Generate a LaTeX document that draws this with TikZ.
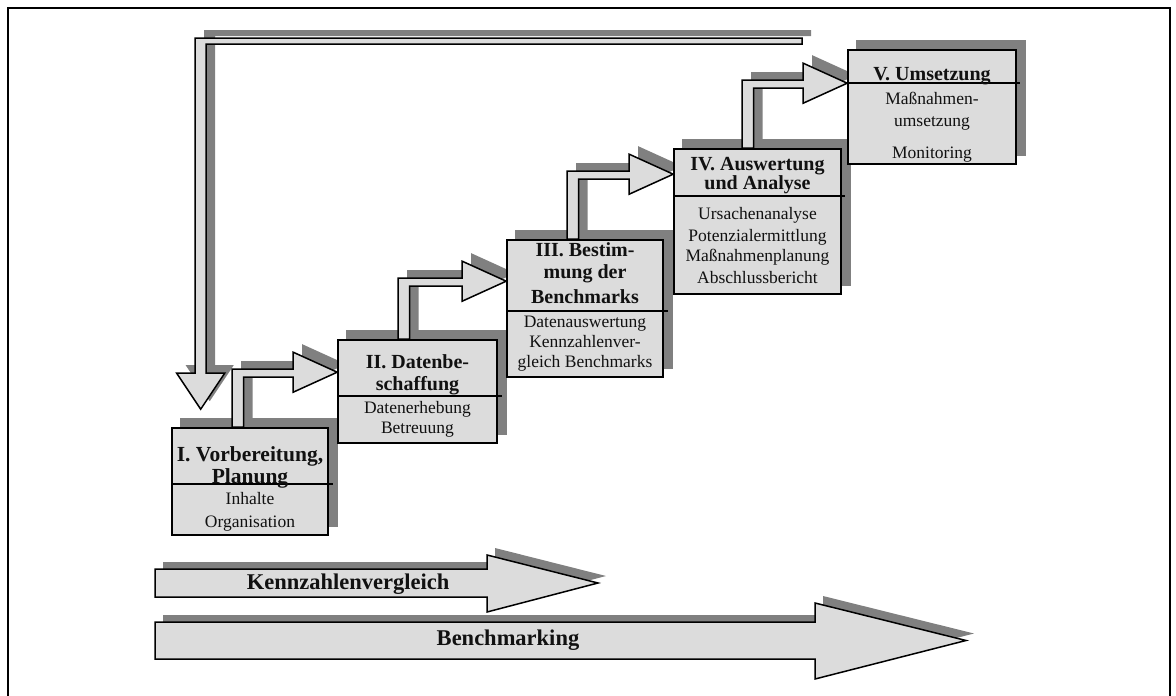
\documentclass[tikz,border=0pt]{standalone}
\usepackage{fontspec}
\setmainfont{Liberation Serif}
\usetikzlibrary{calc}
\definecolor{fillc}{HTML}{DCDCDC}
\definecolor{shadc}{HTML}{808080}
\definecolor{inkc}{HTML}{111111}
\pgfdeclarelayer{shadlayer}
\pgfdeclarelayer{arrlayer}
\pgfsetlayers{shadlayer,arrlayer,main}

% stair connector: #1 start (shaft outer-left at lower box top), #2 tip, #3 dx, #4 dy, #5 style
\newcommand{\stairfill}[5]{%
  \path[#5] let \p1=(#1), \p2=(#2) in
    (\x1+#3,\y1+#4) -- (\x1+#3,\y2+3pt+#4) -- (\x2-44pt+#3,\y2+3pt+#4)
    -- (\x2-44pt+#3,\y2+20pt+#4) -- (\x2+#3,\y2+#4) -- (\x2-44pt+#3,\y2-20pt+#4)
    -- (\x2-44pt+#3,\y2-5pt+#4) -- (\x1+11.5pt+#3,\y2-5pt+#4) -- (\x1+11.5pt+#3,\y1+#4) -- cycle;}

% feedback connector: #1 start (bar right end, top), #2 tip
\newcommand{\feedfill}[5]{%
  \path[#5] let \p1=(#1), \p2=(#2) in
    (\x1+#3,\y1+#4) -- (\x2-5.5pt+#3,\y1+#4) -- (\x2-5.5pt+#3,\y2+36pt+#4)
    -- (\x2-24pt+#3,\y2+36pt+#4) -- (\x2+#3,\y2+#4) -- (\x2+24pt+#3,\y2+36pt+#4)
    -- (\x2+5.5pt+#3,\y2+36pt+#4) -- (\x2+5.5pt+#3,\y1-6pt+#4) -- (\x1+#3,\y1-6pt+#4) -- cycle;}

\begin{document}
\begin{tikzpicture}[x=1pt,y=-1pt,
  stepbox/.style={draw=black, line width=1.6pt, fill=fillc, inner sep=0pt},
  divline/.style={draw=black, line width=1.6pt},
  arrline/.style={draw=black, line width=1.5pt, fill=fillc, line join=miter},
  shadfill/.style={fill=shadc},
  hdr/.style={font=\fontsize{20}{22}\selectfont\bfseries, text=inkc, anchor=base, inner sep=0pt},
  hdrbig/.style={hdr, font=\fontsize{21.5}{23}\selectfont\bfseries},
  bod/.style={font=\fontsize{17.5}{20}\selectfont, text=inkc, anchor=base, inner sep=0pt},
  bigtxt/.style={font=\fontsize{22.5}{25}\selectfont\bfseries, text=inkc, inner sep=0pt}]
\useasboundingbox (0,0) rectangle (1176,696);
\draw[line width=1.5pt] (8,700) -- (8,8) -- (1170,8) -- (1170,700);

% boxes
\node[stepbox, minimum width=156pt, minimum height=107pt] (b1) at (250,481.5) {};
\node[stepbox, minimum width=159pt, minimum height=103pt] (b2) at (417.5,391.5) {};
\node[stepbox, minimum width=156pt, minimum height=137pt] (b3) at (585,308.5) {};
\node[stepbox, minimum width=167pt, minimum height=145pt] (b4) at (757.5,221.5) {};
\node[stepbox, minimum width=168pt, minimum height=114pt] (b5) at (932,107) {};

% dividers
\draw[divline] ($(b1.north west)+(0,57)$) -- ($(b1.north east)+(4,57)$);
\draw[divline] ($(b2.north west)+(0,57)$) -- ($(b2.north east)+(4,57)$);
\draw[divline] ($(b3.north west)+(0,72)$) -- ($(b3.north east)+(4,72)$);
\draw[divline] ($(b4.north west)+(0,48)$) -- ($(b4.north east)+(3,48)$);
\draw[divline] ($(b5.north west)+(0,34)$) -- ($(b5.north east)+(3,34)$);

% box shadows
\begin{pgfonlayer}{shadlayer}
\foreach \b in {b1,b2,b3,b4,b5}{
  \fill[shadc] ($(\b.south west)+(9pt,9pt)$) rectangle ($(\b.north east)+(9pt,9pt)$);
}
\end{pgfonlayer}

% stair connectors
\coordinate (s12) at ($(b1.north west)+(61,0)$);
\coordinate (t12) at ($(b2.north west)+(0,33)$);
\coordinate (s23) at ($(b2.north west)+(61,0)$);
\coordinate (t23) at ($(b3.north west)+(0,42)$);
\coordinate (s34) at ($(b3.north west)+(61,0)$);
\coordinate (t34) at ($(b4.north west)+(0,26)$);
\coordinate (s45) at ($(b4.north west)+(69,0)$);
\coordinate (t45) at ($(b5.north west)+(0,34)$);
\begin{pgfonlayer}{shadlayer}
\stairfill{s12}{t12}{9pt}{8pt}{shadfill}
\stairfill{s23}{t23}{9pt}{8pt}{shadfill}
\stairfill{s34}{t34}{9pt}{8pt}{shadfill}
\stairfill{s45}{t45}{9pt}{8pt}{shadfill}
\end{pgfonlayer}
\begin{pgfonlayer}{arrlayer}
\stairfill{s12}{t12}{0pt}{0pt}{arrline}
\stairfill{s23}{t23}{0pt}{0pt}{arrline}
\stairfill{s34}{t34}{0pt}{0pt}{arrline}
\stairfill{s45}{t45}{0pt}{0pt}{arrline}
\end{pgfonlayer}

% feedback connector V -> I
\coordinate (fbs) at ($(b5.north west)+(-45,-11)$);
\coordinate (fbt) at ($(b1.north west)+(29.5,-18)$);
\begin{pgfonlayer}{shadlayer}
\feedfill{fbs}{fbt}{9pt}{8pt}{shadfill}
\end{pgfonlayer}
\begin{pgfonlayer}{arrlayer}
\feedfill{fbs}{fbt}{0pt}{0pt}{arrline}
\end{pgfonlayer}

% box texts
\node[hdrbig] (h1a) at (250,461) {I. Vorbereitung,};
\node[hdrbig] (h1b) at (250,483) {Planung};
\node[bod] (t1a) at (250,504) {Inhalte};
\node[bod] (t1b) at (250,527) {Organisation};

\node[hdr] (h2a) at (417.5,368) {II. Datenbe-};
\node[hdr] (h2b) at (417.5,390) {schaffung};
\node[bod] (t2a) at (417.5,413) {Datenerhebung};
\node[bod] (t2b) at (417.5,433) {Betreuung};

\node[hdr] (h3a) at (585,256) {III. Bestim-};
\node[hdr] (h3b) at (585,278) {mung der};
\node[hdr] (h3c) at (585,303) {Benchmarks};
\node[bod] (t3a) at (585,327) {Datenauswertung};
\node[bod] (t3b) at (585,347) {Kennzahlenver-};
\node[bod] (t3c) at (585,367) {gleich Benchmarks};

\node[hdr] (h4a) at (757.5,170) {IV. Auswertung};
\node[hdr] (h4b) at (757.5,189) {und Analyse};
\node[bod] (t4a) at (757.5,219) {Ursachenanalyse};
\node[bod] (t4b) at (757.5,241) {Potenzialermittlung};
\node[bod] (t4c) at (757.5,261) {Maßnahmenplanung};
\node[bod] (t4d) at (757.5,283) {Abschlussbericht};

\node[hdr] (h5a) at (932,80) {V. Umsetzung};
\node[bod] (t5a) at (932,104) {Maßnahmen-};
\node[bod] (t5b) at (932,126) {umsetzung};
\node[bod] (t5c) at (932,158) {Monitoring};

% bottom arrows
\fill[shadc, shift={(8pt,7pt)}] (155,569) -- (487,569) -- (487,555) -- (598,583) -- (487,612) -- (487,597) -- (155,597) -- cycle;
\path[arrline] (155,569) -- (487,569) -- (487,555) -- (598,583) -- (487,612) -- (487,597) -- (155,597) -- cycle;
\node[bigtxt] (kv) at (348,584) {Kennzahlenvergleich};

\fill[shadc, shift={(8pt,7pt)}] (155,622) -- (815,622) -- (815,603) -- (966,640.5) -- (815,679) -- (815,659) -- (155,659) -- cycle;
\path[arrline] (155,622) -- (815,622) -- (815,603) -- (966,640.5) -- (815,679) -- (815,659) -- (155,659) -- cycle;
\node[bigtxt] (bm) at (508,640) {Benchmarking};
\end{tikzpicture}
\end{document}
